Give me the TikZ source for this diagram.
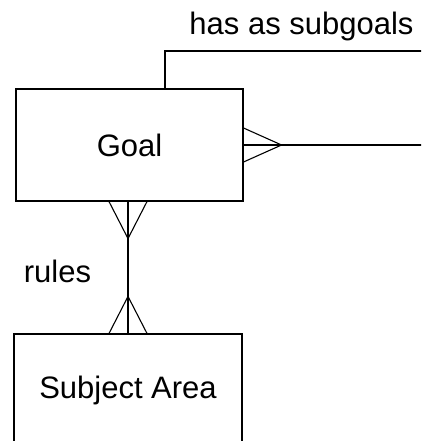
\documentclass[tikz,border=0pt]{standalone}
\usepackage{fontspec}
\setmainfont{Liberation Sans}
\begin{document}
\begin{tikzpicture}[x=1pt,y=-1pt,
  line width=1.1pt,
  entity/.style={draw, minimum width=227pt, minimum height=112pt, inner sep=0pt,
    font=\fontsize{31}{36}\selectfont},
  relname/.style={inner sep=0pt, anchor=base, font=\fontsize{31}{36}\selectfont}]
\useasboundingbox (0,0) rectangle (421,441);
\clip (0,0) rectangle (421,441);

% entities
\node[entity] (goal) at (129.5,145) {Goal};
\node[entity, minimum width=228pt] (subj) at (128,390) {Subject Area};

% relationship names
\node[relname] (subgoalslbl) at (301.5,35) {has as subgoals};
\node[relname] (ruleslbl) at (57.5,282) {rules};

% recursive relationship: Goal has as subgoals Goal
\coordinate (sgOut) at (423,51);
\coordinate (sgIn) at (423,145);
\draw ([xshift=35.5pt]goal.north) |- (sgOut);
\draw (goal.east) -- (sgIn);
\draw ([yshift=17pt]goal.east) -- ([xshift=38pt]goal.east) -- ([yshift=-17pt]goal.east);

% Subject Area rules Goal
\coordinate (rTop) at ([xshift=-1.5pt]goal.south);
\coordinate (rBot) at (subj.north);
\draw (rTop) -- (rBot);
\draw ([xshift=-19pt]rTop) -- ([yshift=-37pt]rTop) -- ([xshift=19pt]rTop);
\draw ([xshift=-19pt]rBot) -- ([yshift=37pt]rBot) -- ([xshift=19pt]rBot);
\end{tikzpicture}
\end{document}
